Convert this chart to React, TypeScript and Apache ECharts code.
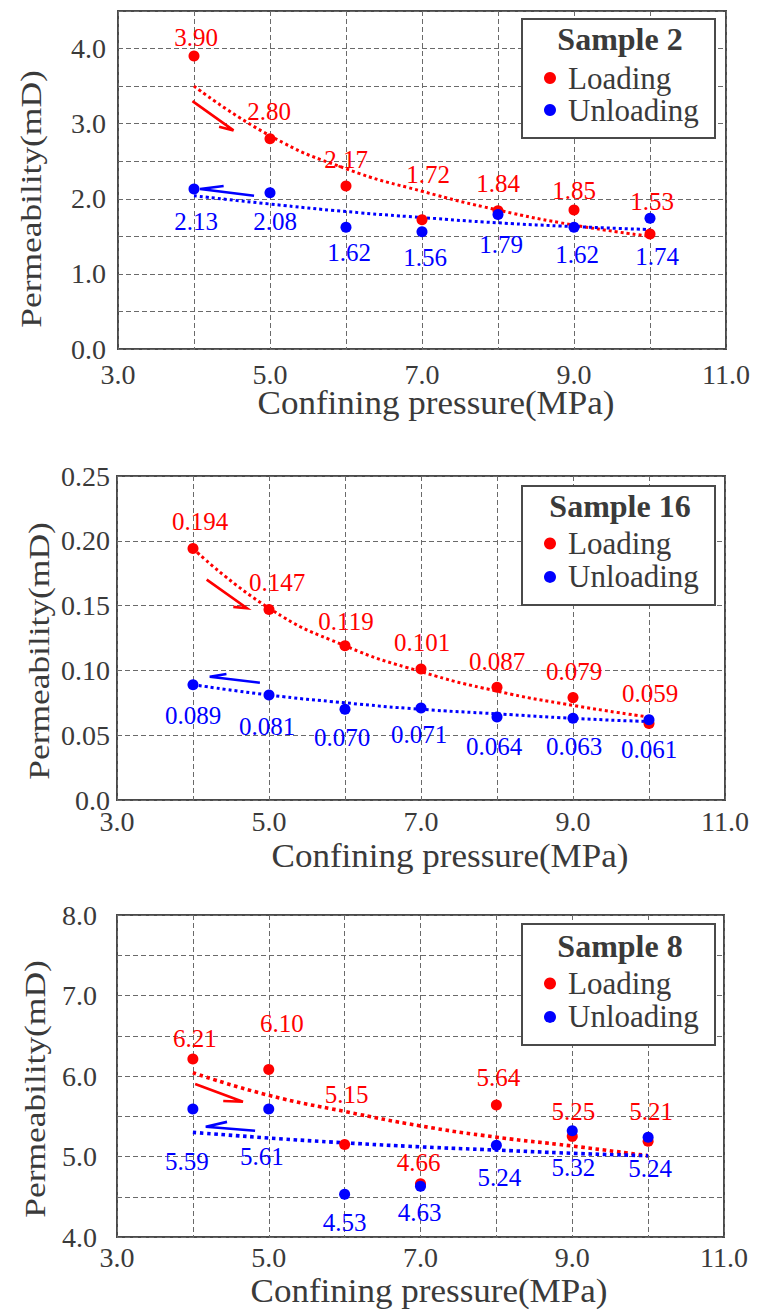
import React, { useEffect, useRef } from "react";
import * as echarts from "echarts";

// ---------- data ----------
const pressure = [4, 5, 6, 7, 8, 9, 10];
const xTickLabels = ["3.0", "5.0", "7.0", "9.0", "11.0"];

// Sample 2
const s2Loading = [3.9, 2.8, 2.17, 1.72, 1.84, 1.85, 1.53];
const s2LoadingLabels = ["3.90", "2.80", "2.17", "1.72", "1.84", "1.85", "1.53"];
const s2Unloading = [2.13, 2.08, 1.62, 1.56, 1.79, 1.62, 1.74];
const s2UnloadingLabels = ["2.13", "2.08", "1.62", "1.56", "1.79", "1.62", "1.74"];
const s2LoadingFit = [3.5, 2.84, 2.4, 2.1, 1.85, 1.65, 1.5];
const s2UnloadingFit = [2.04, 1.93, 1.83, 1.75, 1.68, 1.63, 1.59];
const s2LoadingArrow = [3.98, 3.3, 4.52, 2.91, 4.33, 2.96];
const s2UnloadingArrow = [4.79, 2.04, 4.08, 2.13, 4.39, 2.17];
const s2YTickLabels = ["0.0", "1.0", "2.0", "3.0", "4.0"];

// Sample 16
const s16Loading = [0.194, 0.147, 0.119, 0.101, 0.087, 0.079, 0.059];
const s16LoadingLabels = ["0.194", "0.147", "0.119", "0.101", "0.087", "0.079", "0.059"];
const s16Unloading = [0.089, 0.081, 0.07, 0.071, 0.064, 0.063, 0.062];
const s16UnloadingLabels = ["0.089", "0.081", "0.070", "0.071", "0.064", "0.063", "0.061"];
const s16LoadingFit = [0.194, 0.148, 0.119, 0.099, 0.084, 0.073, 0.064];
const s16UnloadingFit = [0.089, 0.081, 0.075, 0.07, 0.0665, 0.063, 0.0605];
const s16LoadingArrow = [4.18, 0.17, 4.71, 0.148, 4.53, 0.149];
const s16UnloadingArrow = [4.88, 0.0905, 4.22, 0.0951, 4.44, 0.0972];
const s16YTickLabels = ["0.0", "0.05", "0.10", "0.15", "0.20", "0.25"];

// Sample 8
const s8Loading = [6.21, 6.08, 5.15, 4.66, 5.64, 5.25, 5.19];
const s8LoadingLabels = ["6.21", "6.10", "5.15", "4.66", "5.64", "5.25", "5.21"];
const s8Unloading = [5.59, 5.59, 4.53, 4.63, 5.14, 5.32, 5.24];
const s8UnloadingLabels = ["5.59", "5.61", "4.53", "4.63", "5.24", "5.32", "5.24"];
const s8LoadingFit = [6.04, 5.76, 5.56, 5.38, 5.24, 5.13, 5.01];
const s8UnloadingFit = [5.3, 5.23, 5.17, 5.12, 5.08, 5.04, 5.01];
const s8LoadingArrow = [4.03, 5.9, 4.66, 5.68, 4.4, 5.69];
const s8UnloadingArrow = [4.82, 5.32, 4.17, 5.37, 4.45, 5.43];
const s8YTickLabels = ["4.0", "5.0", "6.0", "7.0", "8.0"];

// ---------- styling ----------
const SERIF = "Liberation Serif";
const RED = "#ff0000";
const BLUE = "#0000ff";
const INK = "#3a3a3a";

// label nudges [dx, dy] in pixels (styling only)
const nudges = {
  s2L: [[2, 8], [-1, 0], [0, 0], [6, -18], [0, 0], [0, 7], [2, -6]],
  s2U: [[2, 3], [5, 0], [3, -4], [3, -3], [3, 1], [3, -2], [7, 9]],
  s16L: [[7, 0], [8, 0], [1, 3], [1, 0], [0, 1], [1, 1], [1, -3]],
  s16U: [[0, 2], [-2, 2], [-3, -1], [-2, -2], [-3, 0], [1, -1], [0, 1]],
  s8L: [[2, 6], [13, -19], [2, -23], [-2, 6], [2, 0], [1, 2], [3, -3]],
  s8U: [[-6, 23], [-7, 18], [0, -1], [-1, -3], [3, 3], [1, 8], [2, 2]],
};

type Panel = {
  sample: string;
  grid: { left: number; top: number; width: number; height: number };
  yMin: number;
  yMax: number;
  yInterval: number;
  yTicks: string[];
  yFmt: (v: number) => string;
  yMargin: number;
  xMargin: number;
  loading: number[];
  loadingLabels: string[];
  unloading: number[];
  unloadingLabels: string[];
  loadingFit: number[];
  unloadingFit: number[];
  loadingArrow: number[];
  unloadingArrow: number[];
  nudgeL: number[][];
  nudgeU: number[][];
  fitWidth: number;
  box: { x: number; y: number; w: number; h: number };
  titleY: number;
  legendTop: number;
  legendGap: number;
  xTitle: [number, number];
  yTitle: [number, number];
};

const fmt1 = (v: number) => v.toFixed(1);
const fmt2 = (v: number) => (Math.abs(v) < 1e-9 ? "0.0" : v.toFixed(2));

const panels: Panel[] = [
  {
    sample: "Sample 2",
    grid: { left: 118, top: 11, width: 608, height: 338 },
    yMin: 0, yMax: 4.5, yInterval: 0.5, yTicks: s2YTickLabels, yFmt: fmt1, yMargin: 12, xMargin: 15,
    loading: s2Loading, loadingLabels: s2LoadingLabels,
    unloading: s2Unloading, unloadingLabels: s2UnloadingLabels,
    loadingFit: s2LoadingFit, unloadingFit: s2UnloadingFit,
    loadingArrow: s2LoadingArrow, unloadingArrow: s2UnloadingArrow,
    nudgeL: nudges.s2L, nudgeU: nudges.s2U, fitWidth: 3,
    box: { x: 522, y: 19, w: 193, h: 119 }, titleY: 39, legendTop: 62.5, legendGap: 1,
    xTitle: [436, 402], yTitle: [31, 199],
  },
  {
    sample: "Sample 16",
    grid: { left: 117, top: 476, width: 608, height: 324 },
    yMin: 0, yMax: 0.25, yInterval: 0.05, yTicks: s16YTickLabels, yFmt: fmt2, yMargin: 7, xMargin: 11,
    loading: s16Loading, loadingLabels: s16LoadingLabels,
    unloading: s16Unloading, unloadingLabels: s16UnloadingLabels,
    loadingFit: s16LoadingFit, unloadingFit: s16UnloadingFit,
    loadingArrow: s16LoadingArrow, unloadingArrow: s16UnloadingArrow,
    nudgeL: nudges.s16L, nudgeU: nudges.s16U, fitWidth: 3,
    box: { x: 522, y: 486, w: 193, h: 119 }, titleY: 506, legendTop: 528, legendGap: 2.4,
    xTitle: [450, 855], yTitle: [39, 651],
  },
  {
    sample: "Sample 8",
    grid: { left: 117, top: 915, width: 607, height: 322 },
    yMin: 4, yMax: 8, yInterval: 0.5, yTicks: s8YTickLabels, yFmt: fmt1, yMargin: 20, xMargin: 10,
    loading: s8Loading, loadingLabels: s8LoadingLabels,
    unloading: s8Unloading, unloadingLabels: s8UnloadingLabels,
    loadingFit: s8LoadingFit, unloadingFit: s8UnloadingFit,
    loadingArrow: s8LoadingArrow, unloadingArrow: s8UnloadingArrow,
    nudgeL: nudges.s8L, nudgeU: nudges.s8U, fitWidth: 3.6,
    box: { x: 522, y: 924, w: 193, h: 121 }, titleY: 945.5, legendTop: 968, legendGap: 2.4,
    xTitle: [429, 1290], yTitle: [35, 1089],
  },
];

function buildOption() {
  const grid: any[] = [];
  const xAxis: any[] = [];
  const yAxis: any[] = [];
  const series: any[] = [];
  const legend: any[] = [];
  const graphic: any[] = [];

  panels.forEach((p, i) => {
    grid.push({
      ...p.grid,
      show: true,
      borderColor: "#4a4a4a",
      borderWidth: 2,
      backgroundColor: "#ffffff",
    });
    xAxis.push({
      type: "value",
      gridIndex: i,
      min: 3,
      max: 11,
      interval: 1,
      axisLine: { show: false },
      axisTick: { show: false },
      splitLine: { show: true, lineStyle: { color: "#6a6a6a", type: [5, 3], width: 1 } },
      axisLabel: {
        margin: p.xMargin,
        color: INK,
        fontSize: 28,
        lineHeight: 20,
        fontFamily: SERIF,
        showMinLabel: true,
        showMaxLabel: true,
        formatter: (v: number) => {
          const s = v.toFixed(1);
          return xTickLabels.includes(s) ? s : "";
        },
      },
    });
    yAxis.push({
      type: "value",
      gridIndex: i,
      min: p.yMin,
      max: p.yMax,
      interval: p.yInterval,
      axisLine: { show: false },
      axisTick: { show: false },
      splitLine: { show: true, lineStyle: { color: "#6a6a6a", type: [5, 3], width: 1 } },
      axisLabel: {
        margin: p.yMargin,
        color: INK,
        fontSize: 28,
        lineHeight: 20,
        fontFamily: SERIF,
        showMinLabel: true,
        showMaxLabel: true,
        formatter: (v: number) => {
          const s = p.yFmt(v);
          return p.yTicks.includes(s) ? s : "";
        },
      },
    });

    const fitSeries = (vals: number[], color: string, name: string) => ({
      type: "line",
      name,
      xAxisIndex: i,
      yAxisIndex: i,
      data: vals.map((v, k) => [pressure[k], v]),
      smooth: true,
      symbol: "none",
      silent: true,
      z: 2,
      lineStyle: { color, width: p.fitWidth, type: "dotted" },
    });
    series.push(fitSeries(p.loadingFit, RED, "Loading fit"));
    series.push(fitSeries(p.unloadingFit, BLUE, "Unloading fit"));

    const arrowSeries = (arrow: number[], color: string, name: string) => ({
      type: "custom",
      name,
      xAxisIndex: i,
      yAxisIndex: i,
      silent: true,
      z: 3,
      data: [arrow],
      renderItem: (_params: any, api: any) => {
        const a = api.coord([api.value(0), api.value(1)]);
        const b = api.coord([api.value(2), api.value(3)]);
        const c = api.coord([api.value(4), api.value(5)]);
        return {
          type: "polyline",
          shape: { points: [a, b, c] },
          style: { stroke: color, lineWidth: 2.6, fill: "none" },
        };
      },
    });
    series.push(arrowSeries(p.loadingArrow, RED, "Loading arrow"));
    series.push(arrowSeries(p.unloadingArrow, BLUE, "Unloading arrow"));

    const scatter = (
      vals: number[],
      labels: string[],
      nudge: number[][],
      color: string,
      name: string,
      pos: string,
      dist: number,
      z: number
    ) => ({
      type: "scatter",
      name,
      xAxisIndex: i,
      yAxisIndex: i,
      symbol: "circle",
      symbolSize: 11,
      z,
      itemStyle: { color, opacity: 1 },
      label: {
        show: true,
        position: pos,
        distance: dist,
        color,
        fontSize: 25,
        fontFamily: SERIF,
        formatter: (prm: any) => labels[prm.dataIndex],
      },
      labelLayout: (prm: any) => {
        const n = nudge[prm.dataIndex] || [0, 0];
        return { dx: n[0], dy: n[1], hideOverlap: false };
      },
      data: vals.map((v, k) => [pressure[k], v]),
    });
    series.push(scatter(p.loading, p.loadingLabels, p.nudgeL, RED, "Loading", "top", 9, 4));
    series.push(scatter(p.unloading, p.unloadingLabels, p.nudgeU, BLUE, "Unloading", "bottom", 11, 5));

    legend.push({
      data: ["Loading", "Unloading"],
      orient: "vertical",
      left: 544,
      top: p.legendTop,
      itemWidth: 12,
      itemHeight: 12,
      itemGap: p.legendGap,
      icon: "circle",
      padding: 0,
      selectedMode: false,
      z: 6,
      textStyle: {
        color: INK,
        fontSize: 31,
        lineHeight: 31,
        fontFamily: SERIF,
        padding: [0, 0, 0, 7],
      },
    });

    graphic.push({
      type: "rect",
      z: 5,
      shape: { x: p.box.x, y: p.box.y, width: p.box.w, height: p.box.h },
      style: { fill: "#ffffff", stroke: "#4a4a4a", lineWidth: 2 },
    });
    graphic.push({
      type: "text",
      z: 7,
      x: 620,
      y: p.titleY,
      style: {
        text: p.sample,
        fill: INK,
        font: "bold 32px " + SERIF,
        fontSize: 32,
        fontWeight: "bold",
        fontFamily: SERIF,
        align: "center",
        verticalAlign: "middle",
      },
    });
    graphic.push({
      type: "text",
      z: 7,
      x: p.xTitle[0],
      y: p.xTitle[1],
      scaleX: 1.03,
      style: {
        text: "Confining pressure(MPa)",
        fill: INK,
        font: "34px " + SERIF,
        fontSize: 34,
        fontFamily: SERIF,
        align: "center",
        verticalAlign: "middle",
      },
    });
    graphic.push({
      type: "text",
      z: 7,
      x: p.yTitle[0],
      y: p.yTitle[1],
      rotation: Math.PI / 2,
      scaleX: 1.18,
      style: {
        text: "Permeability(mD)",
        fill: INK,
        font: "30px " + SERIF,
        fontSize: 30,
        fontFamily: SERIF,
        align: "center",
        verticalAlign: "middle",
      },
    });
  });

  return {
    animation: false,
    backgroundColor: "#ffffff",
    textStyle: { fontFamily: SERIF },
    grid,
    xAxis,
    yAxis,
    series,
    legend,
    graphic,
  };
}

export default function App() {
  const ref = useRef<HTMLDivElement>(null);
  useEffect(() => {
    if (!ref.current) return;
    const chart = echarts.init(ref.current, undefined, { renderer: "svg" });
    chart.setOption(buildOption() as any);
    return () => chart.dispose();
  }, []);
  return (
    <div
      ref={ref}
      style={{ position: "absolute", left: 0, top: 0, width: 757, height: 1314, background: "#fff" }}
    />
  );
}
